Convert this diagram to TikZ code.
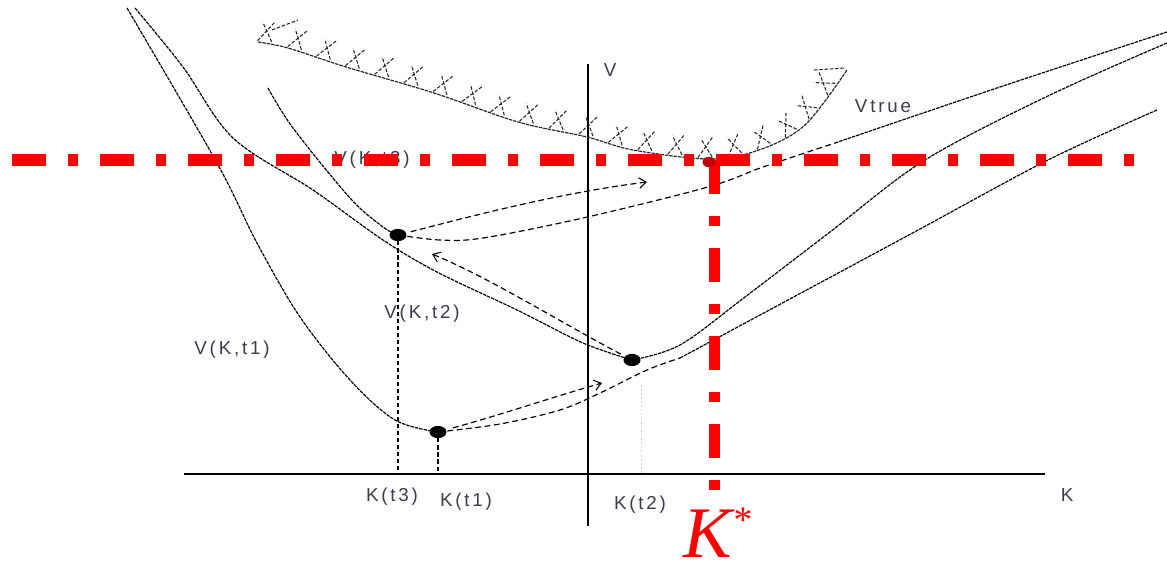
\documentclass[tikz,border=0pt]{standalone}
\usepackage{fontspec}
\setmainfont{Liberation Serif}
\newfontfamily\lblfont[LetterSpace=15]{Liberation Sans}
\usetikzlibrary{arrows.meta,decorations.markings,shapes.geometric}
\definecolor{lblgray}{HTML}{3C3C4C}
\definecolor{kred}{HTML}{FF0000}
\begin{document}
\begin{tikzpicture}[x=0.03cm,y=-0.03cm,
  axisline/.style={line width=1.6pt,black},
  curve/.style={line width=1pt, dash pattern=on 3pt off 0.8pt},
  dline/.style={line width=1pt, dash pattern=on 5pt off 3pt},
  dropline/.style={line width=0.9pt, dash pattern=on 3.5pt off 2.5pt},
  faintdrop/.style={line width=0.8pt, gray!40, dash pattern=on 1.5pt off 2pt},
  reddash/.style={draw=kred, line width=9.4pt, dash pattern=on 29pt off 18.8pt on 8.5pt off 18.8pt},
  dotn/.style={ellipse, fill=black, minimum width=14.5pt, minimum height=10.5pt, inner sep=0pt},
  lbl/.style={font=\lblfont\fontsize{16}{18}\selectfont, text=lblgray, inner sep=0pt},
  tip/.style={-{Straight Barb[length=6pt,width=9pt,line width=0.9pt]}},
  hatchst/.style={line width=0.9pt, black!85, dash pattern=on 3pt off 1.5pt},
  hatchdeco/.style={postaction={decorate}, decoration={markings,
     mark=between positions 0.01 and 0.99 step 26pt with {
       \draw[hatchst] (-6pt,1pt) -- (6pt,19pt);
       \draw[hatchst] (6pt,2pt) -- (-4pt,17pt);}}},
]
\useasboundingbox (0,0) rectangle (1167,565);

% axes
\coordinate (xl) at (184,474);
\coordinate (xr) at (1045,474);
\coordinate (yt) at (588,64);
\coordinate (yb) at (588,526);
\draw[axisline] (xl) -- (xr);
\draw[axisline] (yb) -- (yt);

% dots
\node[dotn] (d1) at (398,235) {};
\node[dotn] (d2) at (632,360) {};
\node[dotn] (d3) at (438,432) {};

% V(K,t1)
\draw[curve] plot[smooth,tension=0.55] coordinates {(127,8) (217,163) (257,243) (300,317) (350,380) (395,420) (438,432)};
\draw[dline] plot[smooth,tension=0.55] coordinates {(438,432) (500,424) (560,410) (600,393) (647,370) (680,358)};
\draw[curve] plot[smooth,tension=0.55] coordinates {(680,358) (788,300) (920,229) (1048,160) (1157,110)};

% V(K,t2)
\draw[curve] plot[smooth,tension=0.55] coordinates {(135,8) (183,67) (233,138) (313,190) (383,240) (437,272) (517,310) (583,343) (632,360)};
\draw[curve] plot[smooth,tension=0.55] coordinates {(632,360) (680,345) (745,297) (830,232) (925,160) (1050,95) (1167,43)};

% V(K,t3)
\draw[curve] plot[smooth,tension=0.55] coordinates {(268,88) (293,128) (350,198) (383,227) (398,235)};
\draw[dline] plot[smooth,tension=0.55] coordinates {(398,235) (440,240) (483,238) (583,218) (708,187) (763,167) (835,143)};
\draw[curve] plot[smooth,tension=0.55] coordinates {(835,143) (1000,87) (1167,32)};

% Vtrue with hatching
\draw[curve, black!85, hatchdeco] plot[smooth,tension=0.55] coordinates {(258,42) (288,48) (346,67) (434,93) (518,122) (587,137) (633,150) (709,159) (759,150) (805,125) (847,70)};
\draw[hatchst] (272,30) -- (298,20);
\draw[hatchst] (814,70) -- (845,68);

% arrows
\coordinate (a1e) at (602,383);
\coordinate (a2e) at (432,254);
\coordinate (a3e) at (647,182);
\draw[dline,tip,shorten <=6pt] (d3) .. controls (500,415) and (550,398) .. (a1e);
\draw[dline,tip,shorten <=4pt] (d2) .. controls (560,322) and (490,278) .. (a2e);
\draw[dline,tip,shorten <=4pt] (d1) .. controls (480,214) and (560,193) .. (a3e);

% drop lines
\coordinate (k3) at (398,474);
\coordinate (k1) at (438,474);
\coordinate (k2t) at (641,385);
\coordinate (k2) at (641,474);
\draw[dropline] (d1) -- (k3);
\draw[dropline] (d3) -- (k1);
\draw[faintdrop] (k2t) -- (k2);

% labels
\node[lbl] (lv) at (610,70) {V};
\node[lbl] (lvtrue) at (883,106) {Vtrue};
\node[lbl] (lv3) at (372,160) {V(K,t3)};
\node[lbl] (lv2) at (422,314) {V(K,t2)};
\node[lbl] (lv1) at (232,350) {V(K,t1)};
\node[lbl] (lk3) at (392,497) {K(t3)};
\node[lbl] (lk1) at (466,502) {K(t1)};
\node[lbl] (lk2) at (640,505) {K(t2)};
\node[lbl] (lk) at (1067,495) {K};

% red lines
\coordinate (rl) at (12,160);
\coordinate (rr) at (1134,160);
\coordinate (rc) at (714,160);
\coordinate (rb) at (714,491);
\draw[reddash] (rl) -- (rr);
\draw[reddash] (rc) -- (rb);
\node[ellipse, fill=red!75!black, minimum width=11pt, minimum height=9pt, inner sep=0pt] (vmin) at (709,162) {};

\node[text=kred, inner sep=0pt, anchor=base] (kstar) at (717,557) {\fontsize{62}{62}\selectfont\itshape K\raisebox{21pt}{\fontsize{32}{32}\selectfont *}};
\end{tikzpicture}
\end{document}
